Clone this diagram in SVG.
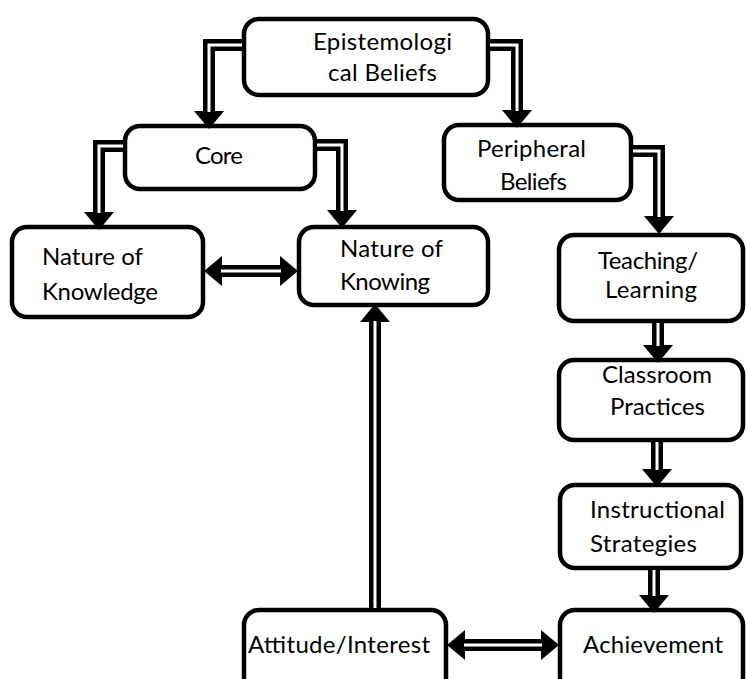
<svg xmlns="http://www.w3.org/2000/svg" width="747" height="679" viewBox="0 0 747 679">
<style>
.box{fill:#fff;stroke:#000;stroke-width:4.5}
.t{font-family:Lato,"Open Sans","Liberation Sans",sans-serif;font-size:24px;fill:#000}
.ob{fill:none;stroke:#000;stroke-width:12;stroke-linejoin:miter}
.iw{fill:none;stroke:#fff;stroke-width:3;stroke-linejoin:miter}
</style>
<defs>
<marker id="ah" markerUnits="userSpaceOnUse" viewBox="0 0 18 30" refX="0" refY="15" markerWidth="18" markerHeight="30" orient="auto-start-reverse">
<polygon points="0,0 18,15 0,30" fill="#000"/>
</marker>
</defs>
<rect width="747" height="679" fill="#fff"/>
<g id="epistemological"><rect class="box" x="244" y="19" width="244" height="76" rx="15"/><text class="t" x="313" y="50" textLength="139">Epistemologi</text><text class="t" x="328" y="81" textLength="109">cal Beliefs</text></g>
<g id="core"><rect class="box" x="125" y="126" width="190" height="63" rx="15"/><text class="t" x="195" y="164" textLength="48">Core</text></g>
<g id="peripheral"><rect class="box" x="444" y="125" width="187" height="75" rx="15"/><text class="t" x="477" y="157" textLength="109">Peripheral</text><text class="t" x="500" y="190" textLength="67">Beliefs</text></g>
<g id="knowledge"><rect class="box" x="12" y="227" width="191" height="90" rx="15"/><text class="t" x="42" y="265" textLength="101">Nature of</text><text class="t" x="42" y="300" textLength="116">Knowledge</text></g>
<g id="knowing"><rect class="box" x="299" y="227" width="189" height="78" rx="15"/><text class="t" x="340" y="257" textLength="103">Nature of</text><text class="t" x="340" y="290" textLength="90">Knowing</text></g>
<g id="teaching"><rect class="box" x="559" y="235" width="184" height="86" rx="15"/><text class="t" x="598" y="269" textLength="100">Teaching/</text><text class="t" x="605" y="298" textLength="92">Learning</text></g>
<g id="classroom"><rect class="box" x="559" y="360" width="184" height="80" rx="15"/><text class="t" x="602" y="383" textLength="110">Classroom</text><text class="t" x="610" y="415" textLength="95">Practices</text></g>
<g id="instructional"><rect class="box" x="560" y="485" width="181" height="83" rx="15"/><text class="t" x="590" y="518" textLength="135">Instructional</text><text class="t" x="590" y="552" textLength="107">Strategies</text></g>
<g id="attitude"><rect class="box" x="244" y="610" width="202" height="100" rx="15"/><text class="t" x="248" y="653" textLength="182">Attitude/Interest</text></g>
<g id="achievement"><rect class="box" x="560" y="610" width="183" height="100" rx="15"/><text class="t" x="583" y="653" textLength="140">Achievement</text></g>
<g id="connectors">
<path class="ob" d="M242,45 H209 V111" marker-end="url(#ah)"/><path class="iw" d="M242,45 H209 V112"/>
<path class="ob" d="M490,45 H517 V110" marker-end="url(#ah)"/><path class="iw" d="M490,45 H517 V111"/>
<path class="ob" d="M123,146 H99 V212" marker-end="url(#ah)"/><path class="iw" d="M123,146 H99 V213"/>
<path class="ob" d="M317,145 H342 V210" marker-end="url(#ah)"/><path class="iw" d="M317,145 H342 V211"/>
<path class="ob" d="M633,151 H659 V216" marker-end="url(#ah)"/><path class="iw" d="M633,151 H659 V217"/>
<path class="ob" d="M658,323 V345" marker-end="url(#ah)"/><path class="iw" d="M658,323 V346"/>
<path class="ob" d="M657,442 V469" marker-end="url(#ah)"/><path class="iw" d="M657,442 V470"/>
<path class="ob" d="M654,570 V595" marker-end="url(#ah)"/><path class="iw" d="M654,570 V596"/>
<path class="ob" d="M222,271 H280" marker-start="url(#ah)" marker-end="url(#ah)"/><path class="iw" d="M221,271 H281"/>
<path class="ob" d="M375,608 V322" marker-end="url(#ah)"/><path class="iw" d="M375,608 V321"/>
<path class="ob" d="M465,645 H541" marker-start="url(#ah)" marker-end="url(#ah)"/><path class="iw" d="M464,645 H542"/>
</g>
</svg>
